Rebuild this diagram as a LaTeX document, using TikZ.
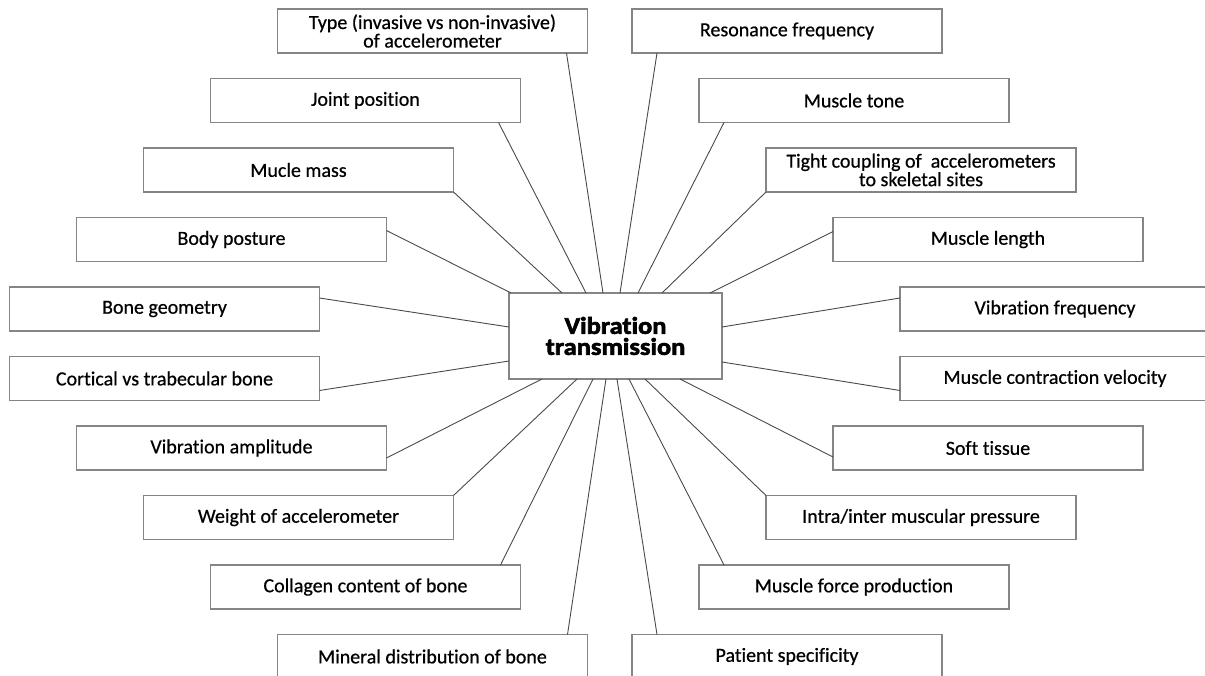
\documentclass[tikz,border=0pt]{standalone}
\usepackage{fontspec}
\setmainfont{Carlito}[Ligatures=NoCommon, FakeBold=0.6]
\newfontfamily\heavyfont{Carlito}[Ligatures=NoCommon, BoldFeatures={FakeBold=2.6,FakeStretch=1.1}]
\usetikzlibrary{positioning}
\definecolor{boxgray}{HTML}{858585}
\definecolor{linegray}{HTML}{4A4A4A}

\begin{document}
\begin{tikzpicture}[
    x=1pt, y=-1pt,
    every node/.style={
        draw=boxgray,
        line width=1.4pt,
        minimum width=310pt,
        minimum height=44pt,
        inner sep=0pt,
        outer sep=0pt,
        align=center,
        font=\fontsize{20}{18.5}\selectfont
      },
    hub/.style={
        minimum width=213pt,
        minimum height=86pt,
        font=\heavyfont\bfseries\fontsize{24}{21}\selectfont
      },
    link/.style={draw=linegray, line width=0.9pt}
    ]

    \useasboundingbox (0,0) rectangle (1205,676);
    \clip (0,0) rectangle (1205,676);

    % ============= CENTRE ==================

    % -------------------------------
    \node[hub] (V) at (615.5,336) {Vibration\\transmission};
    % -------------------------------


    % ============= GAUCHE ==================

    % -------------------------------
    \node (L1) at (432.5,31) {Type (invasive vs non-invasive)\\of accelerometer};
    \node[below=25.5pt of L1.south, xshift=-67pt] (L2) {Joint position};
    \node[below=25.5pt of L2.south, xshift=-67pt] (L3) {Mucle mass};
    \node[below=25.5pt of L3.south, xshift=-67pt] (L4) {Body posture};
    \node[below=25.5pt of L4.south, xshift=-67pt] (L5) {Bone geometry};
    % -------------------------------

    % -------------------------------
    \node[below=25.5pt of L5.south] (L6) {Cortical vs trabecular bone};
    \node[below=25.5pt of L6.south, xshift=67pt] (L7) {Vibration amplitude};
    \node[below=25.5pt of L7.south, xshift=67pt] (L8) {Weight of accelerometer};
    \node[below=25.5pt of L8.south, xshift=67pt] (L9) {Collagen content of bone};
    \node[below=25.5pt of L9.south, xshift=67pt] (L10) {Mineral distribution of bone};
    % -------------------------------


    % ============= DROITE ==================

    % -------------------------------
    \node (R1) at (787,31) {Resonance frequency};
    \node[below=25.5pt of R1.south, xshift=67pt] (R2) {Muscle tone};
    \node[below=25.5pt of R2.south, xshift=67pt] (R3) {Tight coupling of~ accelerometers\\to skeletal sites};
    \node[below=25.5pt of R3.south, xshift=67pt] (R4) {Muscle length};
    \node[below=25.5pt of R4.south, xshift=67pt] (R5) {Vibration frequency};
    % -------------------------------

    % -------------------------------
    \node[below=25.5pt of R5.south] (R6) {Muscle contraction velocity};
    \node[below=25.5pt of R6.south, xshift=-67pt] (R7) {Soft tissue};
    \node[below=25.5pt of R7.south, xshift=-67pt] (R8) {Intra/inter muscular pressure};
    \node[below=25.5pt of R8.south, xshift=-67pt] (R9) {Muscle force production};
    \node[below=25.5pt of R9.south, xshift=-67pt] (R10) {Patient specificity};
    % -------------------------------


    % ============= LIGNES ==================
    \path[link]
        ([xshift=-21pt]L1.south east) -- ([xshift=-12.5pt]V.north)
        ([xshift=-22pt]L2.south east) -- ([xshift=-29.5pt]V.north)
        (L3.south east) -- ([xshift=-53.5pt]V.north)
        ([yshift=-13pt]L4.north east) -- ([xshift=2pt]V.north west)
        ([yshift=-11pt]L5.north east) -- ([yshift=9pt]V.west)
        ([yshift=10pt]L6.south east) -- ([yshift=-25pt]V.west)
        ([yshift=12pt]L7.south east) -- ([xshift=-73.5pt]V.south)
        (L8.north east) -- ([xshift=-38.5pt]V.south)
        ([xshift=-20pt]L9.north east) -- ([xshift=-22.5pt]V.south)
        ([xshift=-20pt]L10.north east) -- ([xshift=-9.5pt]V.south);

    \path[link]
        ([xshift=25pt]R1.south west) -- ([xshift=4.5pt]V.north)
        ([xshift=25pt]R2.south west) -- ([xshift=22.5pt]V.north)
        (R3.south west) -- ([xshift=46.5pt]V.north)
        ([yshift=-14pt]R4.north west) -- ([xshift=94.5pt]V.north)
        ([yshift=-11pt]R5.north west) -- ([yshift=9pt]V.east)
        ([yshift=10pt]R6.south west) -- ([yshift=-26pt]V.east)
        ([yshift=13pt]R7.south west) -- ([xshift=64.5pt]V.south)
        (R8.north west) -- ([xshift=29.5pt]V.south)
        ([xshift=25pt]R9.north west) -- ([xshift=13.5pt]V.south)
        ([xshift=25pt]R10.north west) -- ([xshift=1.5pt]V.south);

  \end{tikzpicture}
\end{document}
